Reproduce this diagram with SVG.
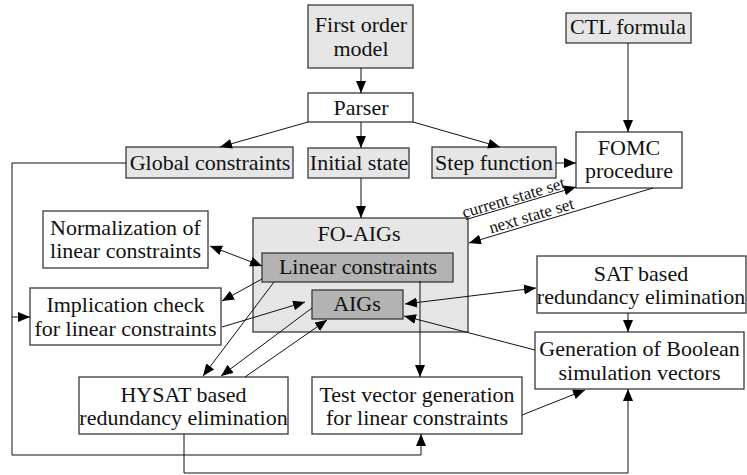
<svg xmlns="http://www.w3.org/2000/svg" width="747" height="475" viewBox="0 0 747 475">
<defs>
<marker id="ah" markerUnits="userSpaceOnUse" markerWidth="13" markerHeight="11" refX="12" refY="5" orient="auto-start-reverse" viewBox="0 0 13 11">
<path d="M0,0 L12,5 L0,10 z" fill="#000"/>
</marker>
</defs>
<g id="fo-aigs"><rect fill="#e6e6e6" stroke="#3a3a3a" stroke-width="1.3" x="253" y="218" width="215" height="114"/><text font-family="Liberation Serif" font-size="22" text-anchor="middle" fill="#111" x="359" y="241">FO-AIGs</text></g>
<g id="linear"><rect fill="#b3b3b3" stroke="#3a3a3a" stroke-width="1.3" x="262" y="253" width="191" height="29"/><text font-family="Liberation Serif" font-size="22" text-anchor="middle" fill="#111" x="358" y="274">Linear constraints</text></g>
<g id="aigs"><rect fill="#b3b3b3" stroke="#3a3a3a" stroke-width="1.3" x="312" y="290" width="91" height="29"/><text font-family="Liberation Serif" font-size="22" text-anchor="middle" fill="#111" x="357" y="311">AIGs</text></g>
<g id="first"><rect fill="#e6e6e6" stroke="#3a3a3a" stroke-width="1.3" x="308" y="5" width="105" height="63"/><text font-family="Liberation Serif" font-size="22" text-anchor="middle" fill="#111" x="361" y="32">First order</text><text font-family="Liberation Serif" font-size="22" text-anchor="middle" fill="#111" x="361" y="56">model</text></g>
<g id="parser"><rect fill="#fff" stroke="#3a3a3a" stroke-width="1.3" x="308" y="93" width="105" height="29"/><text font-family="Liberation Serif" font-size="22" text-anchor="middle" fill="#111" x="361" y="115">Parser</text></g>
<g id="global"><rect fill="#e6e6e6" stroke="#3a3a3a" stroke-width="1.3" x="126" y="147" width="167" height="31"/><text font-family="Liberation Serif" font-size="22" text-anchor="middle" fill="#111" x="210" y="170">Global constraints</text></g>
<g id="initial"><rect fill="#e6e6e6" stroke="#3a3a3a" stroke-width="1.3" x="308" y="148" width="101" height="30"/><text font-family="Liberation Serif" font-size="22" text-anchor="middle" fill="#111" x="359" y="170">Initial state</text></g>
<g id="step"><rect fill="#e6e6e6" stroke="#3a3a3a" stroke-width="1.3" x="432" y="147" width="124" height="31"/><text font-family="Liberation Serif" font-size="22" text-anchor="middle" fill="#111" x="494" y="170">Step function</text></g>
<g id="ctl"><rect fill="#e6e6e6" stroke="#3a3a3a" stroke-width="1.3" x="566" y="13" width="125" height="30"/><text font-family="Liberation Serif" font-size="22" text-anchor="middle" fill="#111" x="628" y="34">CTL formula</text></g>
<g id="fomc"><rect fill="#fff" stroke="#3a3a3a" stroke-width="1.3" x="576" y="132" width="106" height="56"/><text font-family="Liberation Serif" font-size="22" text-anchor="middle" fill="#111" x="629" y="155">FOMC</text><text font-family="Liberation Serif" font-size="22" text-anchor="middle" fill="#111" x="629" y="178">procedure</text></g>
<g id="norm"><rect fill="#fff" stroke="#3a3a3a" stroke-width="1.3" x="43" y="211" width="165" height="57"/><text font-family="Liberation Serif" font-size="22" text-anchor="middle" fill="#111" x="125.5" y="235">Normalization of</text><text font-family="Liberation Serif" font-size="22" text-anchor="middle" fill="#111" x="125.5" y="258">linear constraints</text></g>
<g id="impl"><rect fill="#fff" stroke="#3a3a3a" stroke-width="1.3" x="30" y="288" width="191" height="57"/><text font-family="Liberation Serif" font-size="22" text-anchor="middle" fill="#111" x="125.5" y="312">Implication check</text><text font-family="Liberation Serif" font-size="22" text-anchor="middle" fill="#111" x="125.5" y="336">for linear constraints</text></g>
<g id="hysat"><rect fill="#fff" stroke="#3a3a3a" stroke-width="1.3" x="79" y="377" width="209" height="57"/><text font-family="Liberation Serif" font-size="22" text-anchor="middle" fill="#111" x="183.5" y="402">HYSAT based</text><text font-family="Liberation Serif" font-size="22" text-anchor="middle" fill="#111" x="183.5" y="425">redundancy elimination</text></g>
<g id="testvec"><rect fill="#fff" stroke="#3a3a3a" stroke-width="1.3" x="312" y="377" width="210" height="57"/><text font-family="Liberation Serif" font-size="22" text-anchor="middle" fill="#111" x="417" y="402">Test vector generation</text><text font-family="Liberation Serif" font-size="22" text-anchor="middle" fill="#111" x="417" y="425">for linear constraints</text></g>
<g id="sat"><rect fill="#fff" stroke="#3a3a3a" stroke-width="1.3" x="537" y="256" width="209" height="57"/><text font-family="Liberation Serif" font-size="22" text-anchor="middle" fill="#111" x="641" y="281">SAT based</text><text font-family="Liberation Serif" font-size="22" text-anchor="middle" fill="#111" x="641" y="304">redundancy elimination</text></g>
<g id="gen"><rect fill="#fff" stroke="#3a3a3a" stroke-width="1.3" x="535" y="332" width="209" height="57"/><text font-family="Liberation Serif" font-size="22" text-anchor="middle" fill="#111" x="639.5" y="356">Generation of Boolean</text><text font-family="Liberation Serif" font-size="22" text-anchor="middle" fill="#111" x="639.5" y="380">simulation vectors</text></g>
<g id="connectors" fill="none" stroke="#111" stroke-width="1">
<path marker-end="url(#ah)" d="M361,68 L361,93"/>
<path marker-end="url(#ah)" d="M308,122 L220,147"/>
<path marker-end="url(#ah)" d="M361,122 L361,148"/>
<path marker-end="url(#ah)" d="M413,122 L500,147"/>
<path marker-end="url(#ah)" d="M556,163 L576,163"/>
<path marker-end="url(#ah)" d="M628,43 L628,132"/>
<path marker-end="url(#ah)" d="M361,178 L361,218"/>
<path marker-end="url(#ah)" d="M466,219.5 L576,187"/>
<path marker-end="url(#ah)" d="M653,188 L469,243"/>
<path marker-start="url(#ah)" marker-end="url(#ah)" d="M210,246 L262,266"/>
<path marker-end="url(#ah)" d="M262,279 L222,301"/>
<path marker-end="url(#ah)" d="M222,327 L305,302"/>
<path marker-end="url(#ah)" d="M274,282 L203,376"/>
<path marker-end="url(#ah)" d="M312,308 L221,376"/>
<path marker-end="url(#ah)" d="M245,377 L327,320"/>
<path marker-end="url(#ah)" d="M420,281 L420,377"/>
<path marker-start="url(#ah)" marker-end="url(#ah)" d="M405,304 L536,288"/>
<path marker-end="url(#ah)" d="M535,350 L404,316"/>
<path marker-end="url(#ah)" d="M628,313 L628,332"/>
<path marker-end="url(#ah)" d="M522,415 L585,390"/>
<path marker-end="url(#ah)" d="M126,163 L12,163 L12,455 L421,455 L421,434"/>
<path marker-end="url(#ah)" d="M12,317 L30,317"/>
<path marker-end="url(#ah)" d="M184,434 L184,473 L628,473 L628,389"/>
<text font-family="Liberation Serif" font-size="17" text-anchor="middle" fill="#111" stroke="none" x="515" y="203" transform="rotate(-16.6 515 203)">current state set</text>
<text font-family="Liberation Serif" font-size="17" text-anchor="middle" fill="#111" stroke="none" x="533" y="221" transform="rotate(-16.6 533 221)">next state set</text>
</g>
</svg>
